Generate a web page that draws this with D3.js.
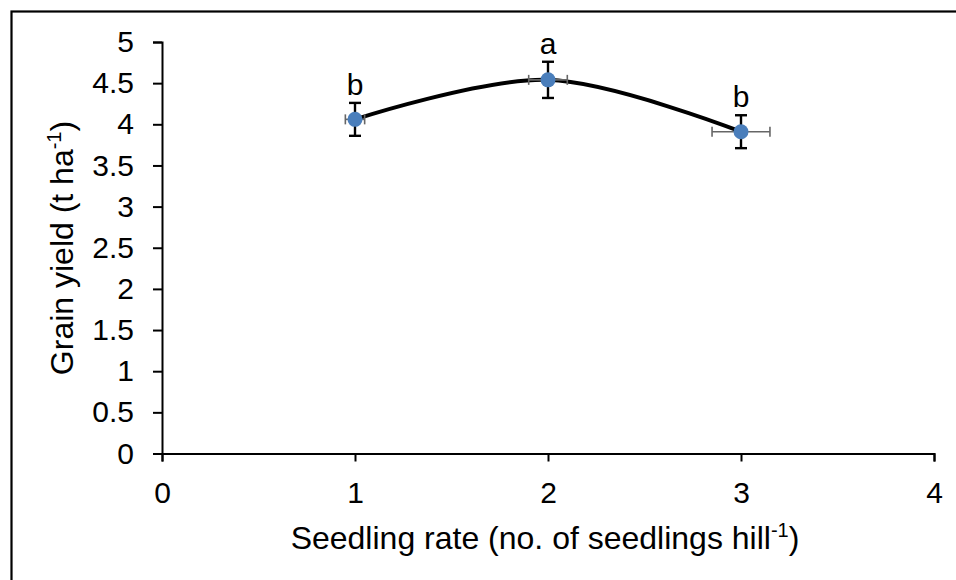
<!DOCTYPE html>
<html>
<head>
<meta charset="utf-8">
<script src="https://cdn.jsdelivr.net/npm/d3@7"></script>
<style>
  body { margin: 0; background: #fff; }
  svg { display: block; font-family: "Liberation Sans", Arial, sans-serif; }
</style>
</head>
<body>
<div id="plot"></div>
<script>
// Data
const seedlingRate = [1, 2, 3];
const grainYield = [4.06, 4.54, 3.91];
const yieldErr = [0.2, 0.22, 0.2];
const rateErr = [0.05, 0.1, 0.15];
const letters = ["b", "a", "b"];
const xTicks = [0, 1, 2, 3, 4];
const yTicks = [0, 0.5, 1, 1.5, 2, 2.5, 3, 3.5, 4, 4.5, 5];

const W = 956, H = 580;
const margin = { top: 42, right: 22, bottom: 126.5, left: 162 };
const width = W - margin.left - margin.right;
const height = H - margin.top - margin.bottom;

const svg = d3.select("#plot").append("svg")
  .attr("width", W)
  .attr("height", H);

// outer frame (runs off the right and bottom edges)
svg.append("rect")
  .attr("x", 11.5).attr("y", 11.5)
  .attr("width", 1000).attr("height", 1000)
  .attr("fill", "none")
  .attr("stroke", "#000")
  .attr("stroke-width", 2.2);

const g = svg.append("g")
  .attr("transform", `translate(${margin.left},${margin.top})`);

const x = d3.scaleLinear().domain([0, 4]).range([0, width]);
const y = d3.scaleLinear().domain([0, 5]).range([height, 0]);

// Axes
const xAxis = g.append("g")
  .attr("transform", `translate(0,${height})`)
  .call(d3.axisBottom(x).tickValues(xTicks).tickFormat(d3.format("d")).tickSizeOuter(0).tickSize(8).tickPadding(20));

const yAxis = g.append("g")
  .call(d3.axisLeft(y).tickValues(yTicks).tickFormat(d => d).tickSizeOuter(0).tickSize(9).tickPadding(19));

[xAxis, yAxis].forEach(ax => {
  ax.selectAll("path, line").attr("stroke", "#000").attr("stroke-width", 2);
  ax.selectAll("text").attr("fill", "#000").style("font-size", "30px");
});

// Axis titles
const xTitle = svg.append("text")
  .attr("x", 545)
  .attr("y", 549)
  .style("text-anchor", "middle")
  .style("font-size", "32px");
xTitle.append("tspan").text("Seedling rate (no. of seedlings hill");
xTitle.append("tspan").attr("dy", -12).style("font-size", "20px").text("-1");
xTitle.append("tspan").attr("dy", 12).text(")");

const yTitle = svg.append("text")
  .attr("transform", "translate(73,248) rotate(-90)")
  .style("text-anchor", "middle")
  .style("font-size", "32px");
yTitle.append("tspan").text("Grain yield (t ha");
yTitle.append("tspan").attr("dy", -12).style("font-size", "20px").text("-1");
yTitle.append("tspan").attr("dy", 12).text(")");

const pts = seedlingRate.map((d, i) => ({
  x: d, y: grainYield[i], ey: yieldErr[i], ex: rateErr[i], label: letters[i]
}));

// Smoothed line
const line = d3.line()
  .x(d => x(d.x))
  .y(d => y(d.y))
  .curve(d3.curveCardinal.tension(0));

g.append("path")
  .datum(pts)
  .attr("d", line)
  .attr("fill", "none")
  .attr("stroke", "#000")
  .attr("stroke-width", 4);

// Horizontal error bars (grey)
const hErr = g.selectAll(".herr").data(pts).enter().append("g").attr("class", "herr")
  .attr("stroke", "#666").attr("stroke-width", 1.6);
hErr.append("line")
  .attr("x1", d => x(d.x - d.ex)).attr("x2", d => x(d.x + d.ex))
  .attr("y1", d => y(d.y)).attr("y2", d => y(d.y));
hErr.append("line")
  .attr("x1", d => x(d.x - d.ex)).attr("x2", d => x(d.x - d.ex))
  .attr("y1", d => y(d.y) - 5).attr("y2", d => y(d.y) + 5);
hErr.append("line")
  .attr("x1", d => x(d.x + d.ex)).attr("x2", d => x(d.x + d.ex))
  .attr("y1", d => y(d.y) - 5).attr("y2", d => y(d.y) + 5);

// Vertical error bars (black)
const vErr = g.selectAll(".verr").data(pts).enter().append("g").attr("class", "verr")
  .attr("stroke", "#000").attr("stroke-width", 2.4);
vErr.append("line")
  .attr("x1", d => x(d.x)).attr("x2", d => x(d.x))
  .attr("y1", d => y(d.y - d.ey)).attr("y2", d => y(d.y + d.ey));
vErr.append("line")
  .attr("x1", d => x(d.x) - 6).attr("x2", d => x(d.x) + 6)
  .attr("y1", d => y(d.y + d.ey)).attr("y2", d => y(d.y + d.ey));
vErr.append("line")
  .attr("x1", d => x(d.x) - 6).attr("x2", d => x(d.x) + 6)
  .attr("y1", d => y(d.y - d.ey)).attr("y2", d => y(d.y - d.ey));

// Markers
g.selectAll(".dot").data(pts).enter().append("circle")
  .attr("class", "dot")
  .attr("cx", d => x(d.x))
  .attr("cy", d => y(d.y))
  .attr("r", 7.5)
  .attr("fill", "#4a7ebb");

// Significance letters
g.selectAll(".letter").data(pts).enter().append("text")
  .attr("class", "letter")
  .attr("x", d => x(d.x))
  .attr("y", d => y(d.y + d.ey) - 8)
  .style("text-anchor", "middle")
  .style("font-size", "30px")
  .text(d => d.label);
</script>
</body>
</html>
